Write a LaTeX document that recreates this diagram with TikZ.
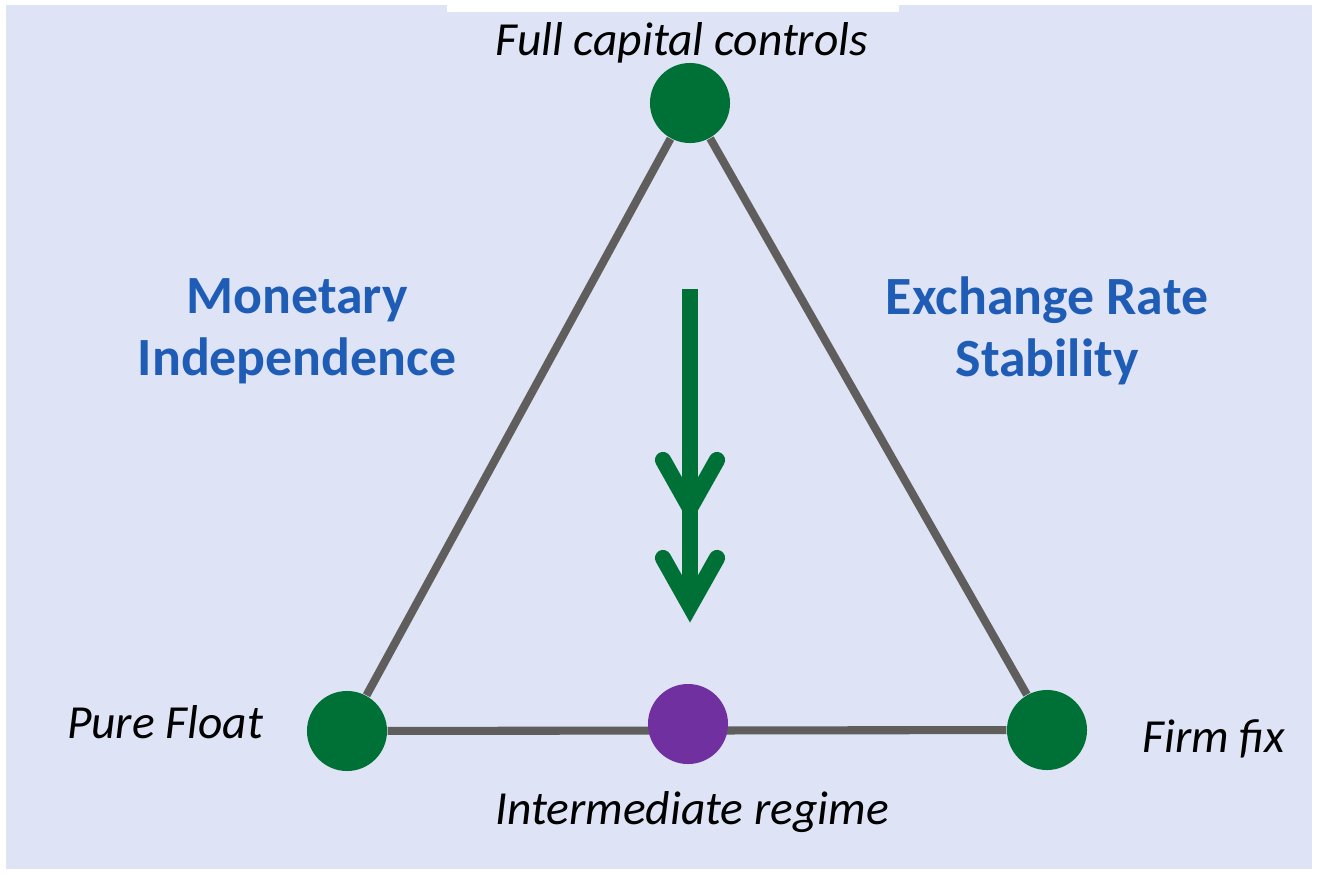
\documentclass[tikz,border=0pt]{standalone}
\usepackage{fontspec}
\setmainfont{Carlito}
\usetikzlibrary{positioning}

\definecolor{bgblue}{RGB}{222,228,245}
\definecolor{dotgreen}{RGB}{0,113,54}
\definecolor{dotpurple}{RGB}{112,48,160}
\definecolor{edgegray}{RGB}{96,94,92}
\definecolor{headblue}{RGB}{30,92,182}

\tikzset{
  corner/.style={circle,fill=dotgreen,minimum size=0.8cm,inner sep=0pt},
  regime/.style={font=\fontsize{13.5}{16}\selectfont\itshape,inner sep=0pt},
  goal/.style={font=\fontsize{15.3}{17.6}\selectfont\bfseries,text=headblue,align=center,inner sep=0pt},
  side/.style={draw=edgegray,line width=2.3pt}
}

\begin{document}
\begin{tikzpicture}[x=0.01cm,y=-0.01cm]
\useasboundingbox (0,0) rectangle (1323,878);
\fill[white] (0,0) rectangle (1323,878);
\fill[bgblue] (6,5) rectangle (1312,869);
\fill[white] (447,0) rectangle (899,12);

% corners of the trilemma
\node[corner] (top) at (690,103) {};
\node[corner] (pf) at (347,731) {};
\node[corner] (ff) at (1047,730) {};

\draw[side] (top) -- (pf);
\draw[side] (top) -- (ff);
\draw[side] (pf) -- (ff);
\node[corner,fill=dotpurple] (mid) at (688,724) {};

% labels
\node[regime] (fcc) at (682,43) {Full capital controls};
\node[regime] (pfl) at (165,722) {Pure Float};
\node[regime] (ffl) at (1214,739) {Firm fix};
\node[regime] (iml) at (692,812) {Intermediate regime};
\node[goal] (mon) at (297,331) {Monetary\\Independence};
\node[goal] (exr) at (1047,331) {Exchange Rate\\Stability};

% move towards the intermediate regime
\coordinate (arrtop) at (690,289);
\coordinate (arrtip) at (690,608);
\draw[dotgreen,line width=4.6pt] (arrtop) -- (arrtip);
\foreach \ty in {508,606} {
  \draw[dotgreen,line width=4.6pt,line cap=round,line join=miter]
    (663,\ty-48) -- (690,\ty) -- (717,\ty-48);
}
\fill[dotgreen] (677,585) -- (703,585) -- (690,612) -- cycle;
\end{tikzpicture}
\end{document}
